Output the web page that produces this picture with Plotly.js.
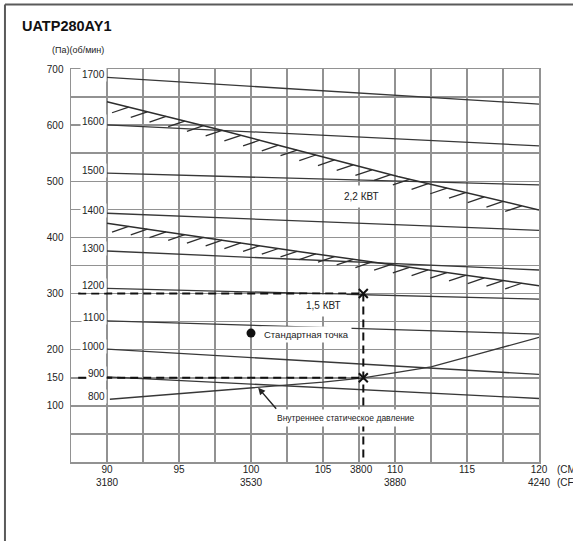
<!DOCTYPE html>
<html><head><meta charset="utf-8">
<script src="https://cdn.plot.ly/plotly-3.0.1.min.js"></script>
<style>html,body{margin:0;padding:0;background:#fff;}#chart{width:573px;height:541px;}</style>
</head><body><div id="chart"></div>
<script>
// ---- data ----
const cmmLabels = [90, 95, 100, 105, 110, 115, 120];
const cfmLabels = ['3180', '', '3530', '', '3880', '', '4240'];
const pressureLabels = [100, 150, 200, 300, 400, 500, 600, 700];

const rpmSpeeds  = [1700, 1600, 1500, 1400, 1300, 1200, 1100, 1000, 900];
const rpmFlow    = [90, 120];
const rpmLeftPa  = [685, 600.6, 514.4, 443.1, 375.8, 309.3, 251.5, 201, 151.6];
const rpmRightPa = [637.5, 563.1, 493.6, 412.6, 342, 290.2, 227.8, 155.9, 113.1];

const limit22Flow = [90, 97.9, 102.1, 110.2, 120];
const limit22Pa   = [641.6, 591.4, 563, 508.4, 449];
const limit15Flow = [90, 103.4, 120];
const limit15Pa   = [425.3, 374.6, 314];

const systemRpmLabel = 800;
const systemFlow = [90.2, 95, 100, 102.7, 105, 107.8, 112.5, 116, 120];
const systemPa   = [111.8, 121.3, 131.3, 136.8, 142.3, 150, 169.5, 194, 222];

const opFlow = 107.8;
const opFlowCfm = '3800';
const opPa = [300, 150];
const stdFlow = [100];
const stdPa = [229.6];

// ---- helpers ----
function interp(xs, ys, x) {
  for (let i = 0; i < xs.length - 1; i++) {
    if (x >= xs[i] && x <= xs[i + 1]) {
      const t = (x - xs[i]) / (xs[i + 1] - xs[i]);
      return ys[i] + t * (ys[i + 1] - ys[i]);
    }
  }
  return x < xs[0] ? ys[0] : ys[ys.length - 1];
}
function hatches(xs, ys) {
  const hx = [], hy = [];
  for (let x = 91.5; x <= 118.9; x += 1.3) {
    const y = interp(xs, ys, x);
    hx.push(x - 1.15, x, null);
    hy.push(y - 10, y, null);
  }
  return {hx, hy};
}

const FONT = 'Liberation Sans, Arial, sans-serif';
const LINE = '#383838';
const GRID = '#929292';
const traces = [];

rpmSpeeds.forEach((r, i) => {
  traces.push({x: rpmFlow, y: [rpmLeftPa[i], rpmRightPa[i]], mode: 'lines',
    line: {color: LINE, width: 1.3}, hoverinfo: 'skip'});
});
[[limit22Flow, limit22Pa], [limit15Flow, limit15Pa]].forEach(([xs, ys]) => {
  traces.push({x: xs, y: ys, mode: 'lines', line: {color: '#2e2e2e', width: 1.5}, hoverinfo: 'skip'});
  const h = hatches(xs, ys);
  traces.push({x: h.hx, y: h.hy, mode: 'lines', line: {color: '#2e2e2e', width: 1.3}, hoverinfo: 'skip'});
});
traces.push({x: systemFlow, y: systemPa, mode: 'lines', line: {color: LINE, width: 1.3}, hoverinfo: 'skip'});

// operating point dashed guides
traces.push({
  x: [88, opFlow, null, 88, opFlow, null, opFlow, opFlow],
  y: [opPa[0], opPa[0], null, opPa[1], opPa[1], null, opPa[0], 0],
  mode: 'lines', line: {color: '#111', width: 2, dash: '8px,5px'}, hoverinfo: 'skip', cliponaxis: false
});
traces.push({x: [opFlow, opFlow], y: opPa, mode: 'markers',
  marker: {symbol: 'x-thin', size: 9, line: {width: 2, color: '#111'}}, hoverinfo: 'skip'});
traces.push({x: stdFlow, y: stdPa, mode: 'markers',
  marker: {symbol: 'circle', size: 9, color: '#111'}, hoverinfo: 'skip'});

// ---- axes ticks ----
const xGrid = [], xText = [];
for (let v = 90; v <= 120.001; v += 2.5) {
  xGrid.push(v);
  const k = cmmLabels.indexOf(v);
  xText.push(k >= 0 ? (cfmLabels[k] ? cmmLabels[k] + '<br>' + cfmLabels[k] : String(cmmLabels[k])) : '');
}
const yGrid = [], yText = [];
for (let v = 0; v <= 700; v += 50) {
  yGrid.push(v);
  yText.push(pressureLabels.includes(v) ? String(v) : '');
}

// ---- annotations ----
const ann = [];
rpmSpeeds.forEach((r, i) => {
  ann.push({x: 90, y: rpmLeftPa[i], xref: 'x', yref: 'y', text: String(r), showarrow: false,
    xanchor: 'right', yanchor: 'middle', xshift: 0, yshift: 3, bgcolor: '#fff', borderpad: 1,
    font: {size: 10, color: '#222', family: FONT}});
});
ann.push({x: 90, y: systemPa[0], xref: 'x', yref: 'y', text: String(systemRpmLabel), showarrow: false,
  xanchor: 'right', yanchor: 'middle', xshift: 0, yshift: 3, bgcolor: '#fff', borderpad: 1,
  font: {size: 10, color: '#222', family: FONT}});
ann.push({x: opFlow, y: 0, xref: 'x', yref: 'y', text: opFlowCfm, showarrow: false,
  xanchor: 'center', yanchor: 'top', xshift: -2, yshift: 0, font: {size: 10, color: '#222', family: FONT}});
ann.push({x: 1.035, y: 0, xref: 'paper', yref: 'y', text: '(CMM)<br>(CFM)', showarrow: false,
  xanchor: 'left', yanchor: 'top', yshift: 0, align: 'left', font: {size: 10, color: '#222', family: FONT}});
ann.push({x: -0.045, y: 1.049, xref: 'paper', yref: 'paper', text: '(Па)(об/мин)', showarrow: false,
  xanchor: 'left', yanchor: 'middle', font: {size: 9, color: '#222', family: FONT}});
ann.push({x: 107.7, y: 473.6, xref: 'x', yref: 'y', text: '2,2 КВТ', showarrow: false,
  bgcolor: '#fff', borderpad: 5, font: {size: 10, color: '#222', family: FONT}});
ann.push({x: 105.04, y: 278.3, xref: 'x', yref: 'y', text: '1,5 КВТ', showarrow: false,
  bgcolor: '#fff', borderpad: 5, font: {size: 10, color: '#222', family: FONT}});
ann.push({x: 100.66, y: 227.8, xref: 'x', yref: 'y', text: 'Стандартная точка', showarrow: false,
  xanchor: 'left', bgcolor: '#fff', borderpad: 2, font: {size: 9.5, color: '#222', family: FONT}});
ann.push({x: 106.62, y: 78.5, xref: 'x', yref: 'y', text: 'Внутреннее статическое давление', showarrow: false,
  bgcolor: '#fff', borderpad: 3, font: {size: 8.5, color: '#222', family: FONT}});
const headX = 100.5;
ann.push({x: headX, y: interp(systemFlow, systemPa, headX), xref: 'x', yref: 'y', text: '',
  showarrow: true, axref: 'x', ayref: 'y', ax: 101.84, ay: 92.2,
  arrowhead: 2, arrowsize: 1, arrowwidth: 1.4, arrowcolor: '#222'});

const layout = {
  width: 573, height: 541,
  margin: {l: 71, r: 34, t: 69, b: 79},
  paper_bgcolor: '#fff', plot_bgcolor: '#fff',
  showlegend: false,
  font: {family: FONT, color: '#222', size: 10},
  title: {text: '<b>UATP280AY1</b>', x: 22 / 573, xanchor: 'left', xref: 'container',
    y: 1 - 25.5 / 541, yanchor: 'middle', yref: 'container',
    font: {size: 14.5, color: '#111', family: FONT}},
  xaxis: {range: [87.5, 120], tickmode: 'array', tickvals: xGrid, ticktext: xText,
    showgrid: true, gridcolor: GRID, gridwidth: 1.5, zeroline: false,
    showline: true, mirror: true, linecolor: GRID, linewidth: 1.5,
    ticks: '', ticklabelstandoff: -3, tickfont: {size: 10, color: '#222', family: FONT}, fixedrange: true},
  yaxis: {range: [0, 700], tickmode: 'array', tickvals: yGrid, ticktext: yText,
    showgrid: true, gridcolor: GRID, gridwidth: 1.5, zeroline: false,
    showline: true, mirror: true, linecolor: GRID, linewidth: 1.5,
    ticks: '', ticklabelstandoff: 4, tickfont: {size: 10, color: '#222', family: FONT}, fixedrange: true},
  annotations: ann,
  shapes: [
    {type: 'line', xref: 'paper', yref: 'paper', x0: -0.1411, x1: 1.2, y0: 1.1639, y1: 1.1639,
      line: {color: '#5a5a5a', width: 2}},
    {type: 'line', xref: 'paper', yref: 'paper', x0: -0.1411, x1: -0.1411, y0: 1.1639, y1: -0.26,
      line: {color: '#5a5a5a', width: 2}}
  ]
};

Plotly.newPlot('chart', traces, layout, {displayModeBar: false, staticPlot: true});
</script>
</body></html>
